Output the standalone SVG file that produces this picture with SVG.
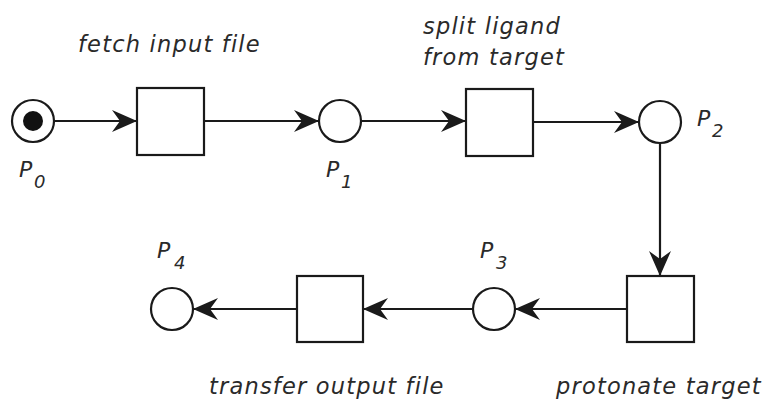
<svg xmlns="http://www.w3.org/2000/svg" width="765" height="406" viewBox="0 0 765 406">
  <defs>
    <marker id="arrow" markerUnits="userSpaceOnUse" markerWidth="28" markerHeight="24" viewBox="-26 -12 28 24" refX="0" refY="0" orient="auto">
      <path d="M0,0 L-25,-11 L-17,0 L-25,11 Z" fill="#1a1a1a"/>
    </marker>
  </defs>
  <style>
    .place { fill: #fff; stroke: #1a1a1a; stroke-width: 2.2; }
    .trans { fill: #fff; stroke: #1a1a1a; stroke-width: 2.2; }
    .arc { fill: none; stroke: #1a1a1a; stroke-width: 2.2; marker-end: url(#arrow); }
    .token { fill: #111; }
    text { font-family: "DejaVu Sans", "Liberation Sans", sans-serif; font-style: italic; fill: #2a2a2a; }
    .lbl { font-size: 22.5px; letter-spacing: 1.2px; }
    .pn { font-size: 22px; }
    .sub { font-size: 18px; }
  </style>
  <rect width="765" height="406" fill="#fff"/>

  <!-- arcs -->
  <g id="connectors">
    <line class="arc" x1="54" y1="121" x2="137" y2="121"/>
    <line class="arc" x1="204" y1="121" x2="319" y2="121"/>
    <line class="arc" x1="361" y1="121" x2="466" y2="121"/>
    <line class="arc" x1="533" y1="122" x2="639" y2="122"/>
    <line class="arc" x1="660" y1="143" x2="660" y2="276"/>
    <line class="arc" x1="627" y1="309" x2="515" y2="309"/>
    <line class="arc" x1="473" y1="309" x2="363" y2="309"/>
    <line class="arc" x1="297" y1="309" x2="193" y2="309"/>
  </g>

  <!-- places -->
  <g id="p0">
    <circle class="place" cx="33" cy="121" r="21"/>
    <circle class="token" cx="33" cy="121" r="10"/>
    <text class="pn" x="19" y="177">P</text><text class="sub" x="34" y="188">0</text>
  </g>
  <g id="p1">
    <circle class="place" cx="340" cy="121" r="21"/>
    <text class="pn" x="326" y="177">P</text><text class="sub" x="341" y="188">1</text>
  </g>
  <g id="p2">
    <circle class="place" cx="660" cy="122" r="21"/>
    <text class="pn" x="697" y="126">P</text><text class="sub" x="712" y="137">2</text>
  </g>
  <g id="p3">
    <circle class="place" cx="494" cy="309" r="21"/>
    <text class="pn" x="480" y="258">P</text><text class="sub" x="496" y="269">3</text>
  </g>
  <g id="p4">
    <circle class="place" cx="172" cy="309" r="21"/>
    <text class="pn" x="157" y="258">P</text><text class="sub" x="174" y="269">4</text>
  </g>

  <!-- transitions -->
  <g id="t-fetch">
    <rect class="trans" x="137" y="88" width="67" height="67"/>
    <text class="lbl" x="78" y="52">fetch input file</text>
  </g>
  <g id="t-split">
    <rect class="trans" x="466" y="89" width="67" height="67"/>
    <text class="lbl" x="423" y="34">split ligand</text>
    <text class="lbl" x="423" y="65">from target</text>
  </g>
  <g id="t-protonate">
    <rect class="trans" x="627" y="276" width="67" height="66"/>
    <text class="lbl" x="556" y="394">protonate target</text>
  </g>
  <g id="t-transfer">
    <rect class="trans" x="297" y="276" width="66" height="66"/>
    <text class="lbl" x="209" y="394">transfer output file</text>
  </g>
</svg>
